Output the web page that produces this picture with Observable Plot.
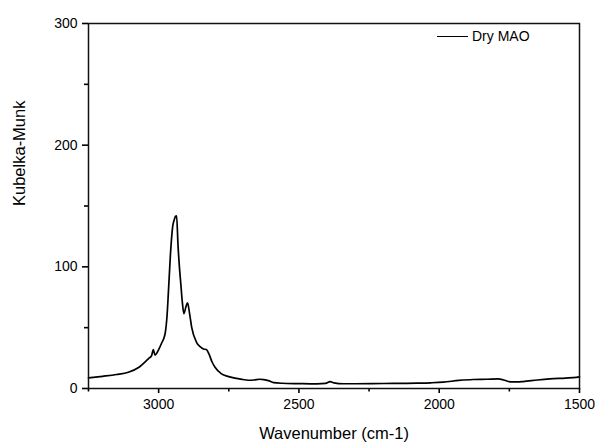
<!DOCTYPE html>
<html>
<head>
<meta charset="utf-8">
<script src="https://cdn.jsdelivr.net/npm/d3@7"></script>
<script src="https://cdn.jsdelivr.net/npm/@observablehq/plot@0.6"></script>
<style>
  html, body { margin: 0; padding: 0; background: #fff; }
  #wrap { position: relative; width: 595px; height: 442px; font-family: "Liberation Sans", Arial, sans-serif; }
  #legend { position: absolute; left: 437px; top: 28px; display: flex; align-items: center; font-size: 14px; color: #000; }
  #legend .sw { width: 31px; height: 0; border-top: 1.6px solid #000; margin-right: 4px; }
</style>
</head>
<body>
<div id="wrap"><div id="legend"><div class="sw"></div><span id="legtext"></span></div></div>
<script>
const seriesName = "Dry MAO";
const wavenumber = [3250,3200,3150,3108,3070,3036,3025,3019,3013,3000,2990,2977,2970,2965,2958,2950,2944,2940,2936,2931,2926,2921,2916,2910,2903,2897,2890,2882,2865,2850,2840,2830,2820,2810,2799,2776,2750,2728,2700,2681,2660,2640,2625,2609,2590,2560,2500,2436,2405,2389,2375,2342,2300,2200,2080,2030,1986,1930,1879,1830,1790,1770,1748,1720,1701,1650,1606,1550,1511,1500];
const kubelkaMunk = [8.7,10,11.5,13.4,17.5,24.6,27,32,27.5,32,37,45,60,80,110,133,139,141.5,142,118,100,86,72,61.5,67,70.5,62,50,38,34,32.5,32,28,22,17.5,12,9.8,8.5,7.4,6.8,7,7.6,7.3,6.5,4.8,4.3,4,3.8,4.2,5.7,4.6,3.9,3.9,4.1,4.4,4.7,5.2,6.6,7.4,7.6,7.9,7,5.5,5.4,5.7,7,7.9,8.6,9.2,9.6];
const xMajor = [3000,2500,2000,1500];
const xMinor = [3250,2750,2250,1750];
const yMajor = [0,100,200,300];
const yMinor = [50,150,250];
const xTitle = "Wavenumber (cm-1)";
const yTitle = "Kubelka-Munk";

const data = wavenumber.map((w,i) => ({w, k: kubelkaMunk[i]}));

const chart = Plot.plot({
  width: 595, height: 442,
  marginLeft: 88, marginRight: 16, marginTop: 23, marginBottom: 54,
  style: {fontFamily: "'Liberation Sans', Arial, sans-serif", fontSize: "14px", color: "#000", background: "#fff"},
  x: {domain: [3250, 1500]},
  y: {domain: [0, 300]},
  marks: [
    Plot.axisX({ticks: xMajor, tickSize: 5, tickPadding: 6, tickFormat: d => String(d), label: null, strokeWidth: 1.6}),
    Plot.axisX({ticks: xMinor, tickSize: 3.5, text: null, label: null, strokeWidth: 1.6}),
    Plot.axisY({ticks: yMajor, tickSize: 6, tickPadding: 5, tickFormat: d => String(d), label: null, strokeWidth: 1.6}),
    Plot.axisY({ticks: yMinor, tickSize: 4, text: null, label: null, strokeWidth: 1.6}),
    Plot.line(data, {x: "w", y: "k", stroke: "#000", strokeWidth: 1.7, curve: "monotone-x"}),
    Plot.frame({stroke: "#111", strokeWidth: 1.5}),
    Plot.text([xTitle], {text: d => d, frameAnchor: "bottom", dy: 45, lineAnchor: "middle", fontSize: 16.5}),
    Plot.text([yTitle], {text: d => d, frameAnchor: "left", dx: -69, rotate: -90, lineAnchor: "middle", fontSize: 16.5})
  ]
});
document.getElementById("wrap").prepend(chart);
document.getElementById("legtext").textContent = seriesName;
</script>
</body>
</html>
